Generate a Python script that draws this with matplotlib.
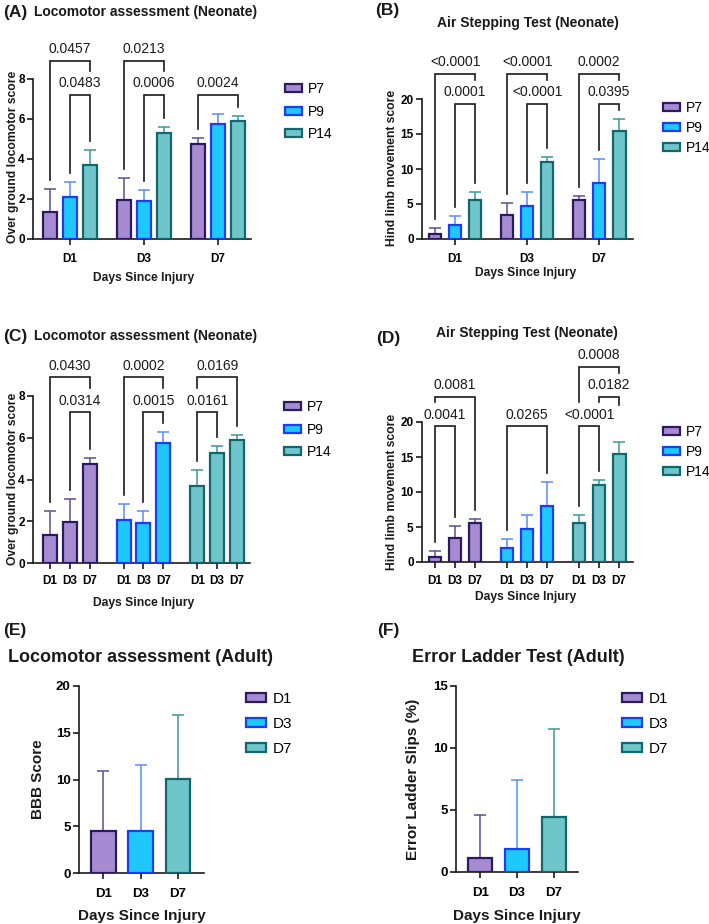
import matplotlib
matplotlib.use('Agg')
import matplotlib.pyplot as plt
from matplotlib.patches import Patch
import numpy as np

plt.rcParams['font.family'] = ['Liberation Sans', 'DejaVu Sans']

W, H, DPI = 709, 924, 100

# ---------------- data ----------------
days = ['D1', 'D3', 'D7']
ages = ['P7', 'P9', 'P14']

loco_P7 = [1.35, 1.97, 4.73]
loco_P9 = [2.08, 1.92, 5.73]
loco_P14 = [3.70, 5.28, 5.88]
loco_err_P7 = [1.13, 1.10, 0.32]
loco_err_P9 = [0.75, 0.55, 0.54]
loco_err_P14 = [0.77, 0.32, 0.25]

air_P7 = [0.76, 3.48, 5.54]
air_P9 = [1.96, 4.73, 8.07]
air_P14 = [5.63, 10.93, 15.37]
air_err_P7 = [0.82, 1.67, 0.57]
air_err_P9 = [1.38, 1.95, 3.29]
air_err_P14 = [1.10, 0.81, 1.72]

bbb_mean = [4.45, 4.52, 10.04]
bbb_err = [6.44, 7.05, 6.86]
ladder_mean = [1.13, 1.82, 4.42]
ladder_err = [3.47, 5.63, 7.10]

# brackets: (group, i, j, level, label, left_mode, right_mode)
br_A = [(0, 0, 2, 8.9, '0.0457', 'bar', 'label'), (0, 1, 2, 7.22, '0.0483', 'bar', 'bar'),
        (1, 0, 2, 8.9, '0.0213', 'bar', 'label'), (1, 1, 2, 7.22, '0.0006', 'bar', 'bar'),
        (2, 0, 2, 7.22, '0.0024', 'bar', 'bar')]
br_B = [(0, 0, 2, 23.57, '<0.0001', 'bar', 'label'), (0, 1, 2, 19.29, '0.0001', 'bar', 'bar'),
        (1, 0, 2, 23.57, '<0.0001', 'bar', 'label'), (1, 1, 2, 19.29, '<0.0001', 'bar', 'bar'),
        (2, 0, 2, 23.57, '0.0002', 'bar', 'label'), (2, 1, 2, 19.29, '0.0395', 'bar', 'bar')]
br_C = [(0, 0, 2, 8.9, '0.0430', 'bar', 'label'), (0, 1, 2, 7.22, '0.0314', 'bar', 'bar'),
        (1, 0, 2, 8.9, '0.0002', 'bar', 'label'), (1, 1, 2, 7.22, '0.0015', 'bar', 'bar'),
        (2, 0, 2, 8.9, '0.0169', 'label', 'bar'), (2, 0, 1, 7.22, '0.0161', 'bar', 'bar')]
br_D = [(0, 0, 1, 19.4, '0.0041', 'bar', 'bar'), (0, 0, 2, 23.6, '0.0081', 'label', 'bar'),
        (1, 0, 2, 19.4, '0.0265', 'bar', 'bar'),
        (2, 0, 1, 19.4, '<0.0001', 'bar', 'bar'), (2, 1, 2, 23.6, '0.0182', 'label', 'short'),
        (2, 0, 2, 27.9, '0.0008', 'label', 'label')]

# ---------------- style ----------------
face = ['#a68bd3', '#1fc8fb', '#6ec6cb']
edge = ['#2b1a5c', '#1c3ef2', '#14656d']
errc = ['#5e4d8e', '#5a8df5', '#3a979e']
TXT = '#1a1a1a'


def fx(x):
    return x / W


def fy(y):
    return 1 - y / H


def add_ax(fig, x0, yt, x1, yb):
    return fig.add_axes([x0 / W, 1 - yb / H, (x1 - x0) / W, (yb - yt) / H])


def style_ax(ax, ymax, yticks, tick_fs, xpad, lw=1.2):
    for s in ['top', 'right']:
        ax.spines[s].set_visible(False)
    for s in ['left', 'bottom']:
        ax.spines[s].set_linewidth(lw)
        ax.spines[s].set_color(TXT)
    ax.set_ylim(0, ymax)
    ax.set_yticks(yticks)
    ax.spines['left'].set_bounds(0, ymax)
    ax.tick_params(axis='both', direction='out', length=4, width=lw, color=TXT,
                   labelsize=tick_fs, pad=2)
    ax.tick_params(axis='x', pad=xpad)
    for lab in ax.get_xticklabels() + ax.get_yticklabels():
        lab.set_fontweight('bold')


def labels(ax, xl, xpos, yl, ypos, fs):
    ax.set_xlabel(xl, fontsize=fs, fontweight='bold', color=TXT)
    ax.set_ylabel(yl, fontsize=fs, fontweight='bold', color=TXT)
    ax.xaxis.label.set_va('center')
    ax.yaxis.label.set_va('center')
    ax.xaxis.set_label_coords(fx(xpos[0]), fy(xpos[1]), transform=ax.figure.transFigure)
    ax.yaxis.set_label_coords(fx(ypos[0]), fy(ypos[1]), transform=ax.figure.transFigure)


def draw_bar(ax, x, m, e, k, w):
    ax.bar(x, m, width=w, color=face[k], edgecolor=edge[k], linewidth=1.6, zorder=3)
    ax.errorbar(x, m, yerr=[[0], [e]], fmt='none', ecolor=errc[k], elinewidth=1.1,
                capsize=4, capthick=1.1, zorder=2)


def draw_brackets(ax, brs, xpos, tops, axh_px, ymax):
    u = ymax / axh_px  # data units per pixel
    gap_bar = 9 * u
    lab_top = 24 * u
    short = 8 * u
    for (g, i, j, lev, lab, lm, rm) in brs:
        ends = []
        for idx, mode in ((i, lm), (j, rm)):
            if mode == 'bar':
                b = tops[g][idx] + gap_bar
            elif mode == 'short':
                b = lev - short
            else:
                lower = [bb[3] for bb in brs if bb[0] == g and bb[3] < lev and bb[1] <= idx <= bb[2]]
                b = max(lower) + lab_top
            ends.append(b)
        xa, xb = xpos[g][i], xpos[g][j]
        ax.plot([xa, xa, xb, xb], [ends[0], lev, lev, ends[1]], color=TXT, lw=1.2,
                clip_on=False, zorder=4, solid_joinstyle='miter')
        ax.annotate(lab, ((xa + xb) / 2, lev), xytext=(0, 5.5), textcoords='offset points',
                    ha='center', va='baseline', fontsize=10, color=TXT, annotation_clip=False)


def legend(ax, names, k_list, x, y, fs, hl, hh, ls):
    handles = [Patch(facecolor=face[k], edgecolor=edge[k], linewidth=1.6) for k in k_list]
    ax.legend(handles, names, loc='upper left', bbox_to_anchor=(fx(x), fy(y)),
              bbox_transform=ax.figure.transFigure, frameon=False, fontsize=fs,
              handlelength=hl, handleheight=hh, handletextpad=0.45, labelspacing=ls,
              borderpad=0, borderaxespad=0)


fig = plt.figure(figsize=(W / DPI, H / DPI), dpi=DPI)

loco = [loco_P7, loco_P9, loco_P14]
loco_err = [loco_err_P7, loco_err_P9, loco_err_P14]
air = [air_P7, air_P9, air_P14]
air_err = [air_err_P7, air_err_P9, air_err_P14]

# ---------- (A) and (B): grouped by day ----------
for (box, means, errs, brs, ymax, yt, sp, bw, xlim, axh, ttl, ylab, ypos, xpos, lpos) in [
    ((33, 79, 251, 239), loco, loco_err, br_A, 8, [0, 2, 4, 6, 8], 0.27, 0.19, (-0.5, 2.446), 160,
     'A', 'Over ground locomotor score', (13, 157), (144, 278), (285, 82)),
    ((422, 99, 633, 239), air, air_err, br_B, 20, [0, 5, 10, 15, 20], 0.278, 0.176, (-0.46, 2.47), 140,
     'B', 'Hind limb movement score', (392, 168), (526, 273), (663, 101)),
]:
    ax = add_ax(fig, *box)
    xposs, tops = [], []
    for g in range(3):
        xs, ts = [], []
        for k in range(3):
            x = g + (k - 1) * sp
            draw_bar(ax, x, means[k][g], errs[k][g], k, bw)
            xs.append(x)
            ts.append(means[k][g] + errs[k][g])
        xposs.append(xs)
        tops.append(ts)
    ax.set_xlim(*xlim)
    ax.set_xticks(range(3))
    ax.set_xticklabels(days)
    style_ax(ax, ymax, yt, 8.5, 6)
    labels(ax, 'Days Since Injury', xpos, ylab, ypos, 8.7)
    draw_brackets(ax, brs, xposs, tops, axh, ymax)
    legend(ax, ages, [0, 1, 2], lpos[0], lpos[1], 10, 1.22, 0.5, 0.62 if ttl == 'A' else 0.42)

# ---------- (C) and (D): grouped by age ----------
for (box, means, errs, brs, ymax, yt, sp, bw, xlim, axh, ttl, ylab, ypos, xpos, lpos) in [
    ((33, 396, 250, 563), loco, loco_err, br_C, 8, [0, 2, 4, 6, 8], 0.27, 0.19, (-0.5, 2.446), 167,
     'C', 'Over ground locomotor score', (13, 479), (144, 603), (284, 400)),
    ((422, 422, 633, 562), air, air_err, br_D, 20, [0, 5, 10, 15, 20], 0.278, 0.176, (-0.46, 2.47), 140,
     'D', 'Hind limb movement score', (392, 492), (526, 597), (663, 425)),
]:
    ax = add_ax(fig, *box)
    xposs, tops, allx = [], [], []
    for k in range(3):
        xs, ts = [], []
        for d in range(3):
            x = k + (d - 1) * sp
            draw_bar(ax, x, means[k][d], errs[k][d], k, bw)
            xs.append(x)
            ts.append(means[k][d] + errs[k][d])
            allx.append(x)
        xposs.append(xs)
        tops.append(ts)
    ax.set_xlim(*xlim)
    ax.set_xticks(allx)
    ax.set_xticklabels(days * 3)
    style_ax(ax, ymax, yt, 8.5, 5)
    labels(ax, 'Days Since Injury', xpos, ylab, ypos, 8.7)
    draw_brackets(ax, brs, xposs, tops, axh, ymax)
    legend(ax, ages, [0, 1, 2], lpos[0], lpos[1], 10, 1.22, 0.5, 0.62 if ttl == 'C' else 0.42)

# ---------- (E) and (F): adult ----------
for (box, means, errs, ymax, yt, xlim, ylab, ypos, xpos, lpos) in [
    ((79, 686, 204, 873), bbb_mean, bbb_err, 20, [0, 5, 10, 15, 20], (-0.65, 2.70),
     'BBB Score', (38, 779), (142, 916), (246, 692)),
    ((456, 686, 578, 872), ladder_mean, ladder_err, 15, [0, 5, 10, 15], (-0.66, 2.66),
     'Error Ladder Slips (%)', (413, 779), (517, 916), (622, 692)),
]:
    ax = add_ax(fig, *box)
    for d in range(3):
        draw_bar(ax, d, means[d], errs[d], d, 0.66)
    ax.set_xlim(*xlim)
    ax.set_xticks(range(3))
    ax.set_xticklabels(days)
    style_ax(ax, ymax, yt, 9.5, 7)
    labels(ax, 'Days Since Injury', xpos, ylab, ypos, 11)
    legend(ax, days, [0, 1, 2], lpos[0], lpos[1], 11, 1.3, 0.45, 0.72)

# ---------- panel titles ----------
def ptxt(x, y, s, fs, ha='left'):
    fig.text(fx(x), fy(y), s, fontsize=fs, fontweight='bold', ha=ha, va='center', color=TXT)

ptxt(3, 12, '(A)', 12.5)
ptxt(34, 12, 'Locomotor assessment (Neonate)', 10)
ptxt(375, 11, '(B)', 12.5)
ptxt(528, 23, 'Air Stepping Test (Neonate)', 10, 'center')
ptxt(3, 336, '(C)', 12.5)
ptxt(34, 336, 'Locomotor assessment (Neonate)', 10)
ptxt(376, 338, '(D)', 12.5)
ptxt(527, 333, 'Air Stepping Test (Neonate)', 10, 'center')
ptxt(3, 630, '(E)', 12.5)
ptxt(8, 657, 'Locomotor assessment (Adult)', 13)
ptxt(377, 630, '(F)', 12.5)
ptxt(412, 657, 'Error Ladder Test (Adult)', 13)

fig.savefig('out.png', dpi=DPI)
